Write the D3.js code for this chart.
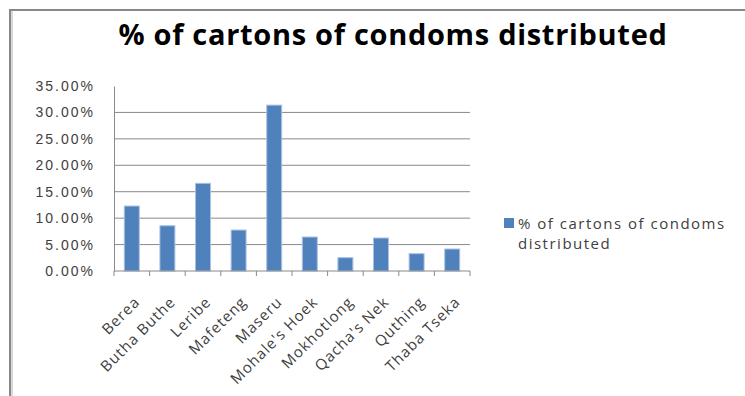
<!DOCTYPE html>
<html>
<head>
<meta charset="utf-8">
<script src="https://cdn.jsdelivr.net/npm/d3@7"></script>
<style>
    body { margin: 0; background: #fff; }
    svg { display: block; font-family: "Open Sans", "Liberation Sans", sans-serif; }
    .axis text { fill: #404040; }
</style>
</head>
<body>
<script>
(function () {
    // Chart data
    var districts = ['Berea', 'Butha Buthe', 'Leribe', 'Mafeteng', 'Maseru', "Mohale's Hoek",
        'Mokhotlong', "Qacha's Nek", 'Quthing', 'Thaba Tseka'];
    var shares = [12.29, 8.56, 16.58, 7.75, 31.38, 6.43, 2.52, 6.24, 3.28, 4.16];
    var yTicks = [0, 5, 10, 15, 20, 25, 30, 35];
    var seriesName = '% of cartons of condoms distributed';

    var width = 745,
        height = 396;

    // Plot frame
    var plotLeft = 114,
        plotRight = 470,
        plotTop = 86,
        plotBottom = 271;

    var svg = d3.select('body')
        .append('svg')
        .attr('width', width)
        .attr('height', height);

    // Outer chart border (top and left edges visible)
    svg.append('path')
        .attr('d', 'M10,396 L10,10 L745,10')
        .attr('fill', 'none')
        .attr('stroke', '#888')
        .attr('stroke-width', 2);
    svg.append('line')
        .attr('x1', 12).attr('x2', 12)
        .attr('y1', 11).attr('y2', 396)
        .attr('stroke', '#ccc')
        .attr('stroke-width', 1.5);

    // Title
    svg.append('text')
        .attr('x', 393)
        .attr('y', 45)
        .attr('text-anchor', 'middle')
        .style('font-size', '29px')
        .style('font-weight', 'bold')
        .style('letter-spacing', '0.7px')
        .style('fill', '#000')
        .text(seriesName);

    var xScale = d3.scaleBand()
        .domain(districts)
        .range([plotLeft, plotRight])
        .paddingInner(0.58)
        .paddingOuter(0.29);

    var yScale = d3.scaleLinear()
        .domain([0, 35])
        .range([plotBottom, plotTop]);

    // Gridlines
    svg.selectAll('.grid')
        .data(yTicks.slice(1, -1))
        .enter()
        .append('line')
        .attr('class', 'grid')
        .attr('x1', plotLeft)
        .attr('x2', plotRight)
        .attr('y1', function (d) { return yScale(d); })
        .attr('y2', function (d) { return yScale(d); })
        .attr('stroke', '#8a8a8a')
        .attr('stroke-width', 1);

    // Bars
    svg.selectAll('.bars')
        .data(shares)
        .enter()
        .append('rect')
        .attr('class', 'bars')
        .attr('x', function (d, i) { return xScale(districts[i]); })
        .attr('width', xScale.bandwidth())
        .attr('y', function (d) { return yScale(d); })
        .attr('height', function (d) { return plotBottom - yScale(d); })
        .attr('fill', '#4f81bd')
        .attr('stroke', '#a9c0e0')
        .attr('stroke-width', 1);

    // Y axis
    var yAxis = svg.append('g')
        .attr('class', 'axis')
        .attr('transform', 'translate(' + plotLeft + ',0)')
        .call(d3.axisLeft(yScale)
            .tickValues(yTicks)
            .tickSize(0)
            .tickPadding(19)
            .tickFormat(function (d) { return d.toFixed(2) + '%'; }));
    yAxis.select('.domain').attr('stroke', '#8a8a8a');
    yAxis.selectAll('text')
        .style('font-size', '14px')
        .style('letter-spacing', '2px');

    // X axis with ticks between categories
    var step = xScale.step();
    var xAxis = svg.append('g')
        .attr('class', 'axis')
        .attr('transform', 'translate(0,' + plotBottom + ')');
    xAxis.append('line')
        .attr('x1', plotLeft)
        .attr('x2', plotRight)
        .attr('stroke', '#8a8a8a');
    xAxis.selectAll('.xtick')
        .data(d3.range(districts.length + 1))
        .enter()
        .append('line')
        .attr('class', 'xtick')
        .attr('x1', function (i) { return plotLeft + i * step; })
        .attr('x2', function (i) { return plotLeft + i * step; })
        .attr('y1', 0)
        .attr('y2', 5)
        .attr('stroke', '#8a8a8a');
    xAxis.selectAll('.xlabel')
        .data(districts)
        .enter()
        .append('text')
        .attr('class', 'xlabel')
        .attr('text-anchor', 'end')
        .attr('transform', function (d) {
            var cx = xScale(d) + xScale.bandwidth() / 2 + 9;
            return 'translate(' + cx + ',32) rotate(-45)';
        })
        .style('font-size', '15px')
        .style('letter-spacing', '1px')
        .text(function (d) { return d; });

    // Legend
    var legend = svg.append('g')
        .attr('transform', 'translate(504,218)');
    legend.append('rect')
        .attr('width', 10)
        .attr('height', 10)
        .attr('fill', '#4f81bd');
    var legendText = legend.append('text')
        .attr('x', 14)
        .attr('y', 11)
        .style('font-size', '15px')
        .style('letter-spacing', '1.5px')
        .style('fill', '#404040');
    legendText.append('tspan').attr('x', 14).text('% of cartons of condoms');
    legendText.append('tspan').attr('x', 14).attr('dy', 20).text('distributed');
})();
</script>
</body>
</html>
